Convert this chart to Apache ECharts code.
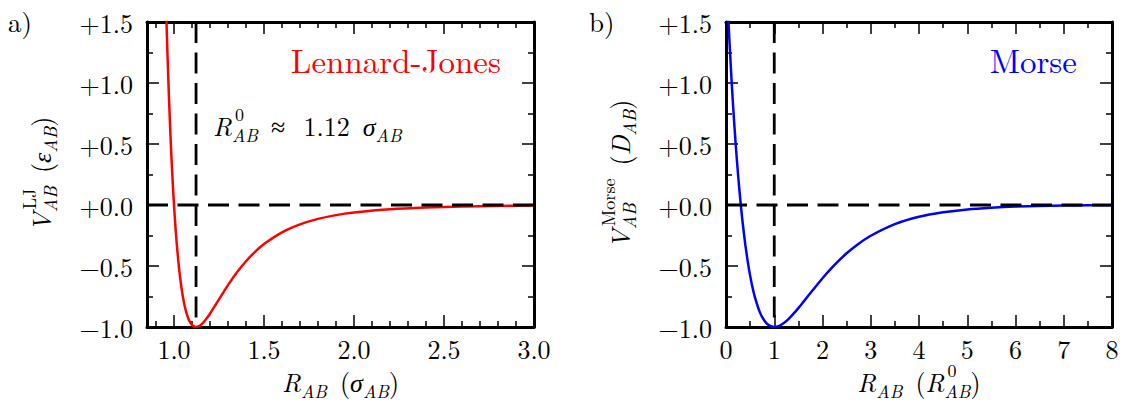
<!DOCTYPE html>
<html><head><meta charset="utf-8">
<script src="https://cdn.jsdelivr.net/npm/echarts@6/dist/echarts.min.js"></script>
<style>
html,body{margin:0;padding:0;background:#fff}
#c{width:1124px;height:403px}
#meas{position:absolute;left:0;top:0;white-space:pre;visibility:hidden}
</style>
</head><body>
<div id="c"></div>
<span id="meas"></span>
<script>
// ---------- data ----------
const ljR = [0.95,0.96,0.97,0.98,0.99,1.00,1.01,1.02,1.03,1.04,1.05,1.06,1.07,1.08,1.09,1.10,1.12,1.14,1.16,1.18,1.20,1.25,1.30,1.35,1.40,1.45,1.50,1.60,1.70,1.80,1.90,2.00,2.20,2.40,2.60,2.80,3.00];
const ljV = [1.961,1.418,0.963,0.582,0.264,0.000,-0.218,-0.398,-0.544,-0.663,-0.758,-0.832,-0.889,-0.932,-0.963,-0.983,-1.000,-0.992,-0.968,-0.933,-0.891,-0.774,-0.657,-0.552,-0.461,-0.384,-0.320,-0.224,-0.159,-0.114,-0.083,-0.062,-0.035,-0.021,-0.013,-0.008,-0.005];
const morseR = [0,0.05,0.10,0.15,0.20,0.25,0.30,0.35,0.40,0.45,0.50,0.55,0.60,0.70,0.80,0.90,1.00,1.10,1.20,1.30,1.40,1.50,1.60,1.80,2.00,2.25,2.50,2.75,3.00,3.50,4.00,4.50,5.00,5.50,6.00,6.50,7.00,7.50,8.00];
const morseV = [1.952,1.514,1.130,0.795,0.502,0.248,0.028,-0.162,-0.324,-0.462,-0.579,-0.677,-0.758,-0.878,-0.951,-0.989,-1.000,-0.991,-0.967,-0.933,-0.891,-0.845,-0.796,-0.697,-0.600,-0.491,-0.396,-0.317,-0.252,-0.157,-0.097,-0.060,-0.036,-0.022,-0.013,-0.008,-0.005,-0.003,-0.002];
const ljEquilibrium = 1.1225;
const morseEquilibrium = 1.0;
const ljXRange = [0.85, 3.0];
const morseXRange = [0, 8];
const yRange = [-1.0, 1.5];
const ljXMajorTicks = [1.0, 1.5, 2.0, 2.5, 3.0];
const ljXMinorTicks = [0.9,1.1,1.2,1.3,1.4,1.6,1.7,1.8,1.9,2.1,2.2,2.3,2.4,2.6,2.7,2.8,2.9];
const ljName = 'Lennard-Jones';
const morseName = 'Morse';

// ---------- style ----------
const FF = '"Latin Modern Roman", "Liberation Serif", serif';
const BLACK = '#000';
const RED = '#ff0000';
const BLUE = '#0000ff';
const DASH = [21, 9.5];
const NB = '\u00a0';
const THIN = '\u2009';

// DOM based text measurement (keeps rich-text layout consistent with the rendered font)
const measEl = document.getElementById('meas');
function domWidth(text, font) {
  measEl.style.font = font;
  measEl.textContent = text;
  const w = measEl.getBoundingClientRect().width;
  measEl.textContent = '';
  return w;
}
if (echarts.setPlatformAPI) {
  echarts.setPlatformAPI({measureText: (text, font) => ({width: domWidth(text || '', font || ('12px ' + FF))})});
}

const tickLabel = {color: BLACK, fontFamily: FF, fontSize: 26};
function yFmt(v) { return (v < 0 ? '\u2212' : '+') + Math.abs(v).toFixed(1); }

function xAxis(grid, range, pos, opts) {
  const base = {
    type: 'value', gridIndex: grid, min: range[0], max: range[1], position: pos,
    axisLine: {show: true, onZero: false, lineStyle: {color: BLACK, width: 3}},
    axisTick: {show: true, inside: true, length: 12, lineStyle: {color: BLACK, width: 1.5}},
    axisLabel: {show: false},
    splitLine: {show: false},
    minorTick: {show: false}
  };
  return Object.assign(base, opts || {});
}
function yAxis(grid, pos, showLabel) {
  return {
    type: 'value', gridIndex: grid, min: yRange[0], max: yRange[1], interval: 0.5, position: pos,
    axisLine: {show: true, onZero: false, lineStyle: {color: BLACK, width: 3}},
    axisTick: {show: true, inside: true, length: 12, lineStyle: {color: BLACK, width: 1.5}},
    minorTick: {show: true, splitNumber: 2, length: 6, lineStyle: {color: BLACK, width: 1.5}},
    axisLabel: Object.assign({show: showLabel, margin: 14, formatter: yFmt}, tickLabel),
    splitLine: {show: false}
  };
}

const xAxes = [
  xAxis(0, ljXRange, 'bottom', {
    axisTick: {show: true, inside: true, length: 12, customValues: ljXMajorTicks, lineStyle: {color: BLACK, width: 1.5}},
    axisLabel: Object.assign({show: true, margin: 8, customValues: ljXMajorTicks, formatter: v => v.toFixed(1)}, tickLabel)
  }),
  xAxis(0, ljXRange, 'bottom', {
    axisLine: {show: false, onZero: false},
    axisTick: {show: true, inside: true, length: 6, customValues: ljXMinorTicks, lineStyle: {color: BLACK, width: 1.5}}
  }),
  xAxis(0, ljXRange, 'top', {
    axisTick: {show: true, inside: true, length: 12, customValues: ljXMajorTicks, lineStyle: {color: BLACK, width: 1.5}}
  }),
  xAxis(0, ljXRange, 'top', {
    axisLine: {show: false, onZero: false},
    axisTick: {show: true, inside: true, length: 6, customValues: ljXMinorTicks, lineStyle: {color: BLACK, width: 1.5}}
  }),
  xAxis(1, morseXRange, 'bottom', {
    interval: 1,
    minorTick: {show: true, splitNumber: 2, length: 6, lineStyle: {color: BLACK, width: 1.5}},
    axisLabel: Object.assign({show: true, margin: 8, formatter: v => String(v)}, tickLabel)
  }),
  xAxis(1, morseXRange, 'top', {
    interval: 1,
    minorTick: {show: true, splitNumber: 2, length: 6, lineStyle: {color: BLACK, width: 1.5}}
  })
];
const yAxes = [yAxis(0, 'left', true), yAxis(0, 'right', false), yAxis(1, 'left', true), yAxis(1, 'right', false)];

function curve(xs, ys, xi, yi, color) {
  return {
    type: 'line', xAxisIndex: xi, yAxisIndex: yi, data: xs.map((x, i) => [x, ys[i]]),
    showSymbol: false, symbol: 'none', smooth: 0.25, clip: true, silent: true, z: 2,
    lineStyle: {color: color, width: 2.5}
  };
}
function dashed(data, xi, yi) {
  return {
    type: 'line', xAxisIndex: xi, yAxisIndex: yi, data: data,
    showSymbol: false, symbol: 'none', clip: true, silent: true, z: 3,
    lineStyle: {color: BLACK, width: 2.8, type: DASH}
  };
}

// ---------- math-like labels ----------
const M = 26, S = 18, SUPPAD = 3, STACK_LH = 20.5;
function fontOf(st) { return (st.fontStyle === 'italic' ? 'italic ' : '') + st.fontSize + 'px ' + FF; }
const RICH = (function () {
  const mk = (o) => Object.assign({fontFamily: FF, fill: BLACK}, o);
  return {
    i: mk({fontSize: M, fontStyle: 'italic', lineHeight: 40}),
    n: mk({fontSize: M, fontStyle: 'normal', lineHeight: 40}),
    sub: mk({fontSize: S, fontStyle: 'italic', lineHeight: 40, padding: [18, 0, 0, 0]}),
    hi: mk({fontSize: S, fontStyle: 'normal', lineHeight: STACK_LH, padding: [0, 0, 0, SUPPAD]}),
    lo: mk({fontSize: S, fontStyle: 'italic', lineHeight: STACK_LH})
  };
})();
function tokW(s, t) {
  const st = RICH[s];
  const pad = st.padding ? st.padding[1] + st.padding[3] : 0;
  return domWidth(t, fontOf(st)) + pad;
}
function lineW(str) {
  let W = 0;
  str.replace(/\{(\w+)\|([^}]*)\}/g, (m, s, t) => { W += tokW(s, t); return m; });
  return W;
}
// parts: strings (rich line) or {hi: 'sup text', lo: 'sub text'} for stacked scripts
function mathSeq(parts, x, y, rotation, anchor) {
  const items = parts.map(p => {
    if (typeof p === 'string') return {text: p, w: lineW(p), dy: 0};
    return {text: '{hi|' + p.hi + '}\n{lo|' + p.lo + '}', w: Math.max(tokW('hi', p.hi), tokW('lo', p.lo)), dy: -1.25};
  });
  const W = items.reduce((a, it) => a + it.w, 0);
  let cx = anchor === 'center' ? -W / 2 : 0;
  const kids = items.map(it => {
    const el = {type: 'text', x: cx, y: it.dy, silent: true,
      style: {text: it.text, rich: RICH, align: 'left', verticalAlign: 'middle', textAlign: 'left', textVerticalAlign: 'middle'}};
    cx += it.w;
    return el;
  });
  return {type: 'group', x: x, y: y, rotation: rotation || 0, children: kids};
}
function plainText(t, x, y, size, color, align) {
  return {type: 'text', x: x, y: y, silent: true,
    style: {text: t, fill: color, fontFamily: FF, fontSize: size, align: align, verticalAlign: 'middle', textAlign: align, textVerticalAlign: 'middle'}};
}

const chart = echarts.init(document.getElementById('c'), null, {renderer: 'svg'});
const graphics = [
  plainText('a)', 8, 21, 27, BLACK, 'left'),
  plainText('b)', 589, 21, 27, BLACK, 'left'),
  plainText(ljName, 501, 59, 33, RED, 'right'),
  plainText(morseName, 1077, 59, 33, BLUE, 'right'),
  // R^0_AB ≈ 1.12 σ_AB
  mathSeq(['{i|R}', {hi: '0', lo: 'AB'}, '{n|' + NB + '\u2248' + NB + THIN + '1.12' + NB + '}{i|\u03c3}{sub|AB}'], 213, 125, 0, 'left'),
  // x titles
  mathSeq(['{i|R}{sub|AB}{n|' + NB + '(}{i|\u03c3}{sub|AB}{n|)}'], 340.5, 381, 0, 'center'),
  mathSeq(['{i|R}{sub|AB}{n|' + NB + '(}{i|R}', {hi: '0', lo: 'AB'}, '{n|)}'], 919, 381, 0, 'center'),
  // y titles (rotated)
  mathSeq(['{i|V}', {hi: 'LJ', lo: 'AB'}, '{n|' + NB + '(}{i|\u03b5}{sub|AB}{n|)}'], 40, 174, Math.PI / 2, 'center'),
  mathSeq(['{i|V}', {hi: 'Morse', lo: 'AB'}, '{n|' + NB + '(}{i|D}{sub|AB}{n|)}'], 619, 174, Math.PI / 2, 'center')
];
chart.setOption({
  animation: false,
  backgroundColor: '#fff',
  grid: [
    {left: 147, top: 22, width: 387, height: 305, containLabel: false, outerBoundsMode: 'none'},
    {left: 726, top: 22, width: 386, height: 305, containLabel: false, outerBoundsMode: 'none'}
  ],
  xAxis: xAxes,
  yAxis: yAxes,
  series: [
    curve(ljR, ljV, 0, 0, RED),
    dashed([[ljEquilibrium, yRange[1]], [ljEquilibrium, yRange[0]]], 0, 0),
    dashed([[ljXRange[0], 0], [ljXRange[1], 0]], 0, 0),
    curve(morseR, morseV, 4, 2, BLUE),
    dashed([[morseEquilibrium, yRange[1]], [morseEquilibrium, yRange[0]]], 4, 2),
    dashed([[morseXRange[0], 0], [morseXRange[1], 0]], 4, 2)
  ],
  graphic: graphics
});
</script>
</body></html>
